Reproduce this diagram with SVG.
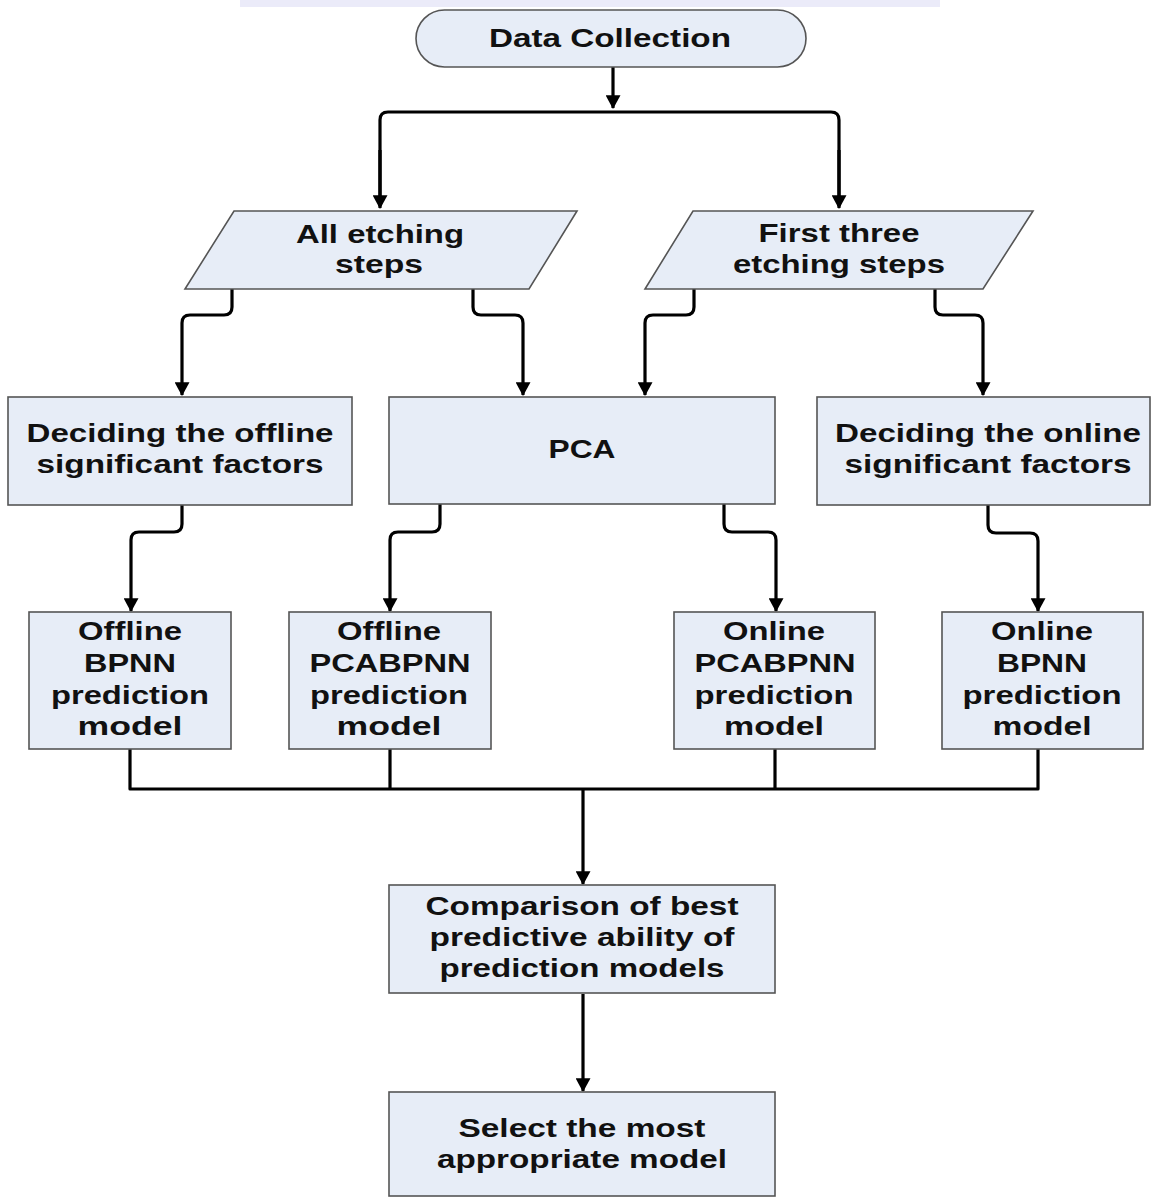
<svg xmlns="http://www.w3.org/2000/svg" width="1154" height="1197" viewBox="0 0 1154 1197">
<style>
.box{fill:#e7edf7;stroke:#555;stroke-width:1.6}
.t{font-family:"Liberation Sans",Arial,sans-serif;font-weight:bold;font-size:25px;fill:#111;text-anchor:middle}
.c{fill:none;stroke:#000;stroke-width:3.2;stroke-linejoin:round}
.a{marker-end:url(#ah)}
</style>
<defs>
<marker id="ah" markerUnits="userSpaceOnUse" markerWidth="15" markerHeight="15" viewBox="0 0 13 14" refX="12" refY="7" orient="auto">
<path d="M0,0 L13,7 L0,14 z" fill="#000"/>
</marker>
</defs>
<rect width="1154" height="1197" fill="#fff"/>
<rect x="240" y="0" width="700" height="7" fill="#e2e2f6" opacity="0.7"/>

<g id="connectors">
<path class="c a" d="M613,67 V108"/>
<path class="c" d="M380,206 V120 Q380,112 388,112 H831 Q839,112 839,120 V206"/>
<path class="c a" d="M380,150 V208"/>
<path class="c a" d="M839,150 V208"/>
<path class="c a" d="M232,289 V307 Q232,315 224,315 H190 Q182,315 182,323 V395"/>
<path class="c a" d="M473,289 V307 Q473,315 481,315 H515 Q523,315 523,323 V395"/>
<path class="c a" d="M694,289 V307 Q694,315 686,315 H653 Q645,315 645,323 V395"/>
<path class="c a" d="M935,289 V307 Q935,315 943,315 H975 Q983,315 983,323 V395"/>
<path class="c a" d="M182,505 V524 Q182,532 174,532 H139 Q131,532 131,540 V611"/>
<path class="c a" d="M440,504 V524 Q440,532 432,532 H398 Q390,532 390,540 V611"/>
<path class="c a" d="M724,504 V524 Q724,532 732,532 H768 Q776,532 776,540 V611"/>
<path class="c a" d="M988,505 V525 Q988,533 996,533 H1030 Q1038,533 1038,541 V611"/>
<path class="c" d="M130,749 V789 H1038 V749"/>
<path class="c" d="M390,749 V789"/>
<path class="c" d="M775,749 V789"/>
<path class="c a" d="M583,789 V884"/>
<path class="c a" d="M583,994 V1091"/>
</g>

<g id="data-collection">
<rect class="box" x="416" y="10" width="390" height="57" rx="28.5"/>
<text class="t" x="610" y="47" textLength="242" lengthAdjust="spacingAndGlyphs">Data Collection</text>
</g>

<g id="all-etching">
<polygon class="box" points="234,211 577,211 529,289 185,289"/>
<text class="t" x="380" y="243" textLength="168" lengthAdjust="spacingAndGlyphs">All etching</text>
<text class="t" x="379" y="273" textLength="88" lengthAdjust="spacingAndGlyphs">steps</text>
</g>

<g id="first-three">
<polygon class="box" points="693,211 1033,211 983,289 645,289"/>
<text class="t" x="839" y="242" textLength="161" lengthAdjust="spacingAndGlyphs">First three</text>
<text class="t" x="839" y="273" textLength="212" lengthAdjust="spacingAndGlyphs">etching steps</text>
</g>

<g id="offline-factors">
<rect class="box" x="8" y="397" width="344" height="108"/>
<text class="t" x="180" y="442" textLength="307" lengthAdjust="spacingAndGlyphs">Deciding the offline</text>
<text class="t" x="180" y="473" textLength="287" lengthAdjust="spacingAndGlyphs">significant factors</text>
</g>

<g id="pca">
<rect class="box" x="389" y="397" width="386" height="107"/>
<text class="t" x="582" y="458" textLength="67" lengthAdjust="spacingAndGlyphs">PCA</text>
</g>

<g id="online-factors">
<rect class="box" x="817" y="397" width="333" height="108"/>
<text class="t" x="988" y="442" textLength="306" lengthAdjust="spacingAndGlyphs">Deciding the online</text>
<text class="t" x="988" y="473" textLength="287" lengthAdjust="spacingAndGlyphs">significant factors</text>
</g>

<g id="offline-bpnn">
<rect class="box" x="29" y="612" width="202" height="137"/>
<text class="t" x="130" y="640" textLength="104" lengthAdjust="spacingAndGlyphs">Offline</text>
<text class="t" x="130" y="672" textLength="92" lengthAdjust="spacingAndGlyphs">BPNN</text>
<text class="t" x="130" y="704" textLength="158" lengthAdjust="spacingAndGlyphs">prediction</text>
<text class="t" x="130" y="735" textLength="105" lengthAdjust="spacingAndGlyphs">model</text>
</g>

<g id="offline-pcabpnn">
<rect class="box" x="289" y="612" width="202" height="137"/>
<text class="t" x="389" y="640" textLength="104" lengthAdjust="spacingAndGlyphs">Offline</text>
<text class="t" x="390" y="672" textLength="161" lengthAdjust="spacingAndGlyphs">PCABPNN</text>
<text class="t" x="389" y="704" textLength="158" lengthAdjust="spacingAndGlyphs">prediction</text>
<text class="t" x="389" y="735" textLength="105" lengthAdjust="spacingAndGlyphs">model</text>
</g>

<g id="online-pcabpnn">
<rect class="box" x="674" y="612" width="201" height="137"/>
<text class="t" x="774" y="640" textLength="102" lengthAdjust="spacingAndGlyphs">Online</text>
<text class="t" x="775" y="672" textLength="161" lengthAdjust="spacingAndGlyphs">PCABPNN</text>
<text class="t" x="774" y="704" textLength="159" lengthAdjust="spacingAndGlyphs">prediction</text>
<text class="t" x="774" y="735" textLength="100" lengthAdjust="spacingAndGlyphs">model</text>
</g>

<g id="online-bpnn">
<rect class="box" x="942" y="612" width="201" height="137"/>
<text class="t" x="1042" y="640" textLength="102" lengthAdjust="spacingAndGlyphs">Online</text>
<text class="t" x="1042" y="672" textLength="90" lengthAdjust="spacingAndGlyphs">BPNN</text>
<text class="t" x="1042" y="704" textLength="159" lengthAdjust="spacingAndGlyphs">prediction</text>
<text class="t" x="1042" y="735" textLength="99" lengthAdjust="spacingAndGlyphs">model</text>
</g>

<g id="comparison">
<rect class="box" x="389" y="885" width="386" height="108"/>
<text class="t" x="582" y="915" textLength="313" lengthAdjust="spacingAndGlyphs">Comparison of best</text>
<text class="t" x="582" y="946" textLength="305" lengthAdjust="spacingAndGlyphs">predictive ability of</text>
<text class="t" x="582" y="977" textLength="285" lengthAdjust="spacingAndGlyphs">prediction models</text>
</g>

<g id="select">
<rect class="box" x="389" y="1092" width="386" height="104"/>
<text class="t" x="582" y="1137" textLength="247" lengthAdjust="spacingAndGlyphs">Select the most</text>
<text class="t" x="582" y="1168" textLength="290" lengthAdjust="spacingAndGlyphs">appropriate model</text>
</g>
</svg>
